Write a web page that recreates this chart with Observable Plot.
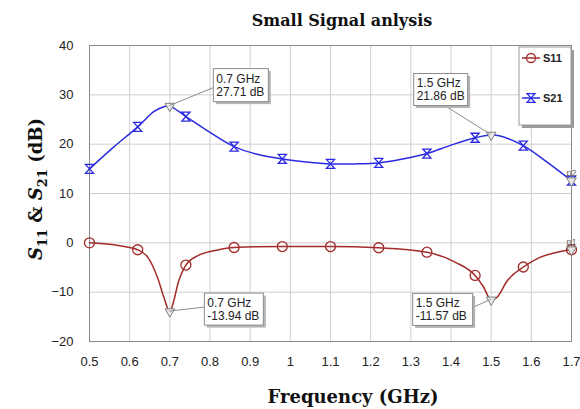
<!DOCTYPE html>
<html>
<head>
<meta charset="utf-8">
<script src="https://cdn.jsdelivr.net/npm/d3@7"></script>
<script src="https://cdn.jsdelivr.net/npm/@observablehq/plot@0.6"></script>
<style>
  html, body { margin: 0; padding: 0; background: #fff; }
  #chart { width: 580px; height: 409px; }
</style>
</head>
<body>
<div id="chart"></div>
<script>
// ---- Data ----
const titleText = "Small Signal anlysis";
const xLabelText = "Frequency (GHz)";
const xTicks = [0.5, 0.6, 0.7, 0.8, 0.9, 1.0, 1.1, 1.2, 1.3, 1.4, 1.5, 1.6, 1.7];
const yTicks = [-20, -10, 0, 10, 20, 30, 40];

// S11 trace (dB)
const s11Freq = [0.50, 0.56, 0.62, 0.645, 0.67, 0.685, 0.70, 0.71, 0.72, 0.74, 0.77, 0.81, 0.86, 0.98, 1.10, 1.22, 1.34, 1.41, 1.46, 1.48, 1.50, 1.515, 1.54, 1.58, 1.62, 1.67, 1.70];
const s11Vals = [0, -0.4, -1.4, -2.9, -7.2, -11, -13.94, -11.7, -8.3, -4.5, -2.6, -1.6, -0.95, -0.75, -0.75, -1.0, -1.9, -3.9, -6.6, -8.8, -11.57, -11.0, -7.7, -4.9, -3.0, -1.8, -1.4];

// S21 trace (dB)
const s21Freq = [0.50, 0.56, 0.62, 0.66, 0.685, 0.70, 0.74, 0.79, 0.86, 0.92, 0.98, 1.04, 1.10, 1.16, 1.22, 1.28, 1.34, 1.40, 1.46, 1.50, 1.52, 1.58, 1.64, 1.70];
const s21Vals = [15.0, 19.4, 23.5, 26.6, 27.6, 27.71, 25.6, 22.9, 19.5, 17.9, 17.0, 16.4, 16.0, 16.0, 16.2, 17.0, 18.1, 19.8, 21.3, 21.86, 21.7, 19.7, 16.3, 12.6];

// Marker frequencies (symbols drawn on traces)
const markerFreq = [0.50, 0.62, 0.74, 0.86, 0.98, 1.10, 1.22, 1.34, 1.46, 1.58, 1.70];

// Marker annotations
const annFreq = [0.7, 1.5, 0.7, 1.5];
const annVals = [27.71, 21.86, -13.94, -11.57];
const annLine1 = ["0.7 GHz", "1.5 GHz", "0.7 GHz", "1.5 GHz"];
const annLine2 = ["27.71 dB", "21.86 dB", "-13.94 dB", "-11.57 dB"];

// End-point markers p1/p2
const endNames = ["p2", "p1"];
const endFreq = [1.70, 1.70];
const endVals = [12.6, -1.4];

const seriesNames = ["S11", "S21"];

// ---- Build tables ----
const s11 = s11Freq.map((f, i) => ({f, v: s11Vals[i]}));
const s21 = s21Freq.map((f, i) => ({f, v: s21Vals[i]}));
const s11M = markerFreq.map(f => s11.find(d => Math.abs(d.f - f) < 1e-9));
const s21M = markerFreq.map(f => s21.find(d => Math.abs(d.f - f) < 1e-9));
const anns = annFreq.map((f, i) => ({f, v: annVals[i], l1: annLine1[i], l2: annLine2[i]}));
const ends = endFreq.map((f, i) => ({f, v: endVals[i], name: endNames[i]}));

const RED = "#a32b2b";
const BLUE = "#2a2ae0";
const SANS = "'Liberation Sans', Arial, sans-serif";
const SERIF = "'DejaVu Serif', serif";

const hourglass = {
  draw(ctx, size) {
    const r = Math.sqrt(size / Math.PI);
    const w = r * 0.9;
    ctx.moveTo(-w, -r);
    ctx.lineTo(w, -r);
    ctx.lineTo(-w, r);
    ctx.lineTo(w, r);
    ctx.closePath();
  }
};

const plot = Plot.plot({
  width: 580,
  height: 409,
  marginLeft: 89,
  marginRight: 9,
  marginTop: 45,
  marginBottom: 68,
  style: {fontFamily: SANS, fontSize: "13px", color: "#222", background: "#fff"},
  x: {domain: [0.5, 1.7]},
  y: {domain: [-20, 40]},
  marks: [
    Plot.gridX(xTicks, {stroke: "#cfcfcf", strokeOpacity: 1}),
    Plot.gridY(yTicks, {stroke: "#cfcfcf", strokeOpacity: 1}),
    Plot.axisX(xTicks, {tickSize: 0, tickPadding: 15, tickFormat: d => d3.format("~g")(d), label: null, fontSize: 13}),
    Plot.axisY(yTicks, {tickSize: 0, tickPadding: 16, label: null, fontSize: 13}),
    Plot.frame({stroke: "#8a8a8a"}),
    Plot.line(s11, {x: "f", y: "v", stroke: RED, strokeWidth: 1.5, curve: "monotone-x"}),
    Plot.line(s21, {x: "f", y: "v", stroke: BLUE, strokeWidth: 1.5, curve: "catmull-rom"}),
    Plot.dot(s11M, {x: "f", y: "v", r: 5, stroke: RED, fill: "none", strokeWidth: 1.3}),
    Plot.dot(s21M, {x: "f", y: "v", r: 4.5, symbol: hourglass, stroke: BLUE, fill: "none", strokeWidth: 1.3}),
    Plot.dot(anns, {x: "f", y: "v", symbol: "triangle", rotate: 180, r: 3.6, stroke: "#808080", fill: "#e8e8e8", strokeWidth: 1}),
    Plot.dot(ends, {x: "f", y: "v", symbol: "triangle", rotate: 180, r: 3.6, stroke: "#808080", fill: "#e8e8e8", strokeWidth: 1}),
    Plot.text(ends, {x: "f", y: "v", text: "name", dx: 5, dy: -8, fontSize: 9, fill: "#666", textAnchor: "end"})
  ]
});

document.getElementById("chart").appendChild(plot);

const svg = d3.select(plot);
const xs = plot.scale("x");
const ys = plot.scale("y");

// Annotation boxes (layout offsets in pixels from the marked point)
const boxLayout = [
  {dx: 44, dy: -37, w: 55, h: 33, lx: 0, ly: 19},
  {dx: -77, dy: -61, w: 54, h: 32, lx: 31, ly: 32},
  {dx: 35, dy: -18, w: 59, h: 32, lx: 0, ly: 14},
  {dx: -78, dy: -6, w: 60, h: 32, lx: 60, ly: 14}
];
const annG = svg.append("g").attr("text-anchor", "start");
anns.forEach((a, i) => {
  const L = boxLayout[i];
  const px = xs.apply(a.f), py = ys.apply(a.v);
  const bx = px + L.dx, by = py + L.dy;
  annG.append("line").attr("x1", bx + L.lx).attr("y1", by + L.ly).attr("x2", px).attr("y2", py)
    .attr("stroke", "#8c8c8c").attr("stroke-width", 1);
  annG.append("rect").attr("x", bx + 2.5).attr("y", by + 2.5).attr("width", L.w).attr("height", L.h)
    .attr("fill", "#b5b5b5");
  annG.append("rect").attr("x", bx).attr("y", by).attr("width", L.w).attr("height", L.h)
    .attr("fill", "#fff").attr("stroke", "#8c8c8c").attr("stroke-width", 1);
  annG.append("text").attr("x", bx + 3).attr("y", by + 14).text(a.l1)
    .attr("font-size", 12).attr("fill", "#222").attr("font-family", SANS);
  annG.append("text").attr("x", bx + 3).attr("y", by + 27).text(a.l2)
    .attr("font-size", 12).attr("fill", "#222").attr("font-family", SANS);
});

// Legend box
const lg = svg.append("g").attr("text-anchor", "start");
const lgx = 519, lgy = 47, lgw = 52, lgh = 78;
lg.append("rect").attr("x", lgx + 3).attr("y", lgy + 3).attr("width", lgw).attr("height", lgh).attr("fill", "#9a9a9a");
lg.append("rect").attr("x", lgx).attr("y", lgy).attr("width", lgw).attr("height", lgh)
  .attr("fill", "#fff").attr("stroke", "#9a9a9a");
[RED, BLUE].forEach((c, i) => {
  const yy = lgy + 11 + i * 40;
  lg.append("line").attr("x1", lgx + 3).attr("x2", lgx + 21).attr("y1", yy).attr("y2", yy).attr("stroke", c).attr("stroke-width", 1.5);
  if (i === 0) {
    lg.append("circle").attr("cx", lgx + 12).attr("cy", yy).attr("r", 4.5).attr("fill", "none").attr("stroke", c).attr("stroke-width", 1.3);
  } else {
    const r = 4.3, w = 3.9;
    lg.append("path").attr("d", `M${lgx + 12 - w},${yy - r}L${lgx + 12 + w},${yy - r}L${lgx + 12 - w},${yy + r}L${lgx + 12 + w},${yy + r}Z`)
      .attr("fill", "none").attr("stroke", c).attr("stroke-width", 1.3);
  }
  lg.append("text").attr("x", lgx + 24).attr("y", yy + 4).text(seriesNames[i])
    .attr("font-size", 11).attr("font-weight", "bold").attr("fill", "#222")
    .attr("font-family", SANS);
});

// Title
svg.append("text").attr("x", 342).attr("y", 26).attr("text-anchor", "middle")
  .attr("font-family", SERIF).attr("font-weight", "bold").attr("font-size", 16)
  .attr("fill", "#111").text(titleText);

// X label
svg.append("text").attr("x", 353).attr("y", 403).attr("text-anchor", "middle")
  .attr("font-family", SERIF).attr("font-weight", "bold").attr("font-size", 18)
  .attr("fill", "#111").text(xLabelText);

// Y label with subscripts
const yl = svg.append("text").attr("transform", "translate(42,189) rotate(-90)").attr("text-anchor", "middle")
  .attr("font-family", SERIF).attr("font-weight", "bold").attr("font-size", 18).attr("fill", "#111");
yl.append("tspan").attr("font-style", "italic").text("S");
yl.append("tspan").attr("font-size", 13).attr("dy", 5).text("11");
yl.append("tspan").attr("dy", -5).text(" & ");
yl.append("tspan").attr("font-style", "italic").text("S");
yl.append("tspan").attr("font-size", 13).attr("dy", 5).text("21");
yl.append("tspan").attr("dy", -5).text(" (dB)");
</script>
</body>
</html>
